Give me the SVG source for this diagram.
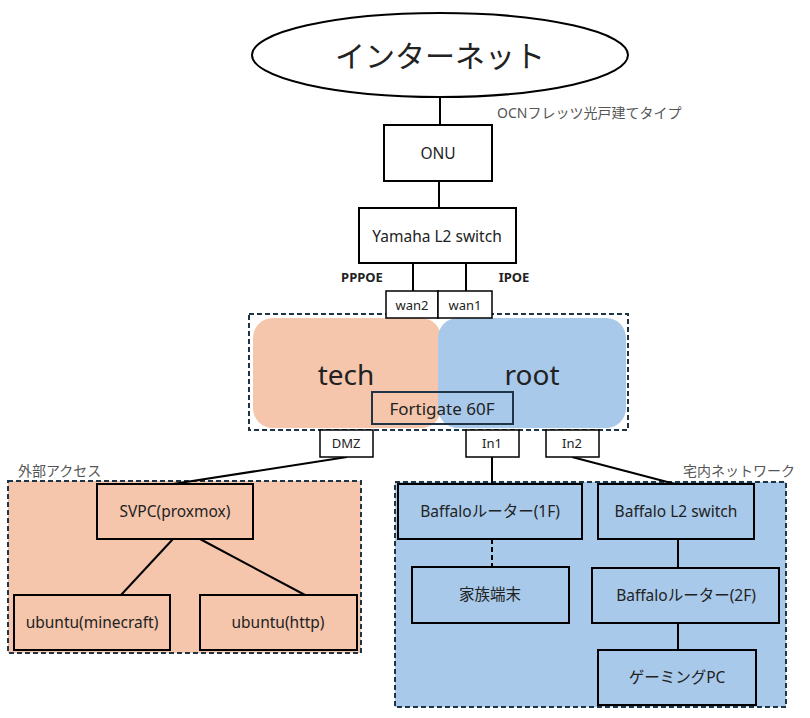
<svg xmlns="http://www.w3.org/2000/svg" width="810" height="718" viewBox="0 0 810 718">
<style>
text{font-family:"Noto Sans","Noto Sans CJK JP",sans-serif;fill:#222;text-anchor:middle;dominant-baseline:central}
.box{fill:#fff;stroke:#000;stroke-width:2}
.sbox{fill:#F5C6AC;stroke:#000;stroke-width:2}
.bbox{fill:#A8C9EA;stroke:#000;stroke-width:2}
.port{fill:#fff;stroke:#000;stroke-width:1.5}
.grp{stroke:#1E3547;stroke-width:2;stroke-dasharray:5 3}
.lbl{font-size:14px;fill:#555;text-anchor:start}
.n{font-size:15.5px}
.b{font-size:13px;font-weight:bold}
.w{font-size:13px}
.c line{stroke:#000;stroke-width:2}
</style>
<rect width="810" height="718" fill="#fff"/>
<g id="fortigate">
<rect x="249" y="314" width="379" height="116" fill="#fff" class="grp"/>
<rect x="253" y="318" width="188" height="110" rx="20" fill="#F5C6AC"/>
<rect x="438" y="318" width="188" height="110" rx="20" fill="#A8C9EA"/>
<text x="346" y="374" font-size="28">tech</text>
<text x="532" y="374" font-size="28">root</text>
<rect x="372" y="392" width="141" height="32" fill="none" stroke="#1E3547" stroke-width="2"/>
<text x="442" y="408" font-size="17">Fortigate 60F</text>
</g>
<g id="external">
<text class="lbl" x="18" y="470">外部アクセス</text>
<rect x="8" y="481" width="353" height="172" fill="#F5C6AC" class="grp"/>
</g>
<g id="home">
<text class="lbl" x="683" y="470">宅内ネットワーク</text>
<rect x="395" y="482" width="391" height="225" fill="#A8C9EA" class="grp"/>
</g>
<g class="c" id="connectors">
<line x1="440" y1="97" x2="440" y2="125"/>
<line x1="439" y1="181" x2="439" y2="208"/>
<line x1="413" y1="263" x2="413" y2="291"/>
<line x1="466" y1="263" x2="466" y2="291"/>
<line x1="347" y1="457" x2="173" y2="484"/>
<line x1="173" y1="539" x2="121" y2="595"/>
<line x1="200" y1="539" x2="305" y2="595"/>
<line x1="492" y1="457" x2="492" y2="484"/>
<line x1="572" y1="457" x2="675" y2="484"/>
<line x1="492" y1="539" x2="492" y2="567" stroke-dasharray="5 3"/>
<line x1="678" y1="539" x2="678" y2="568"/>
<line x1="678" y1="623" x2="678" y2="650"/>
</g>
<g id="internet">
<ellipse cx="440" cy="55" rx="188" ry="42" fill="#fff" stroke="#000" stroke-width="2"/>
<text x="440" y="55" font-size="30">インターネット</text>
</g>
<text class="lbl" x="497" y="112">OCNフレッツ光戸建てタイプ</text>
<g id="onu"><rect class="box" x="384" y="125" width="108" height="56"/><text class="n" x="438" y="153">ONU</text></g>
<g id="yamaha"><rect class="box" x="359" y="208" width="157" height="55"/><text class="n" x="437" y="236">Yamaha L2 switch</text></g>
<text class="b" x="362" y="277">PPPOE</text>
<text class="b" x="514" y="277">IPOE</text>
<g id="wan2"><rect class="port" x="386" y="291" width="52" height="27"/><text class="w" x="412" y="305">wan2</text></g>
<g id="wan1"><rect class="port" x="438" y="291" width="54" height="27"/><text class="w" x="465" y="305">wan1</text></g>
<g id="dmz"><rect class="port" x="320" y="430" width="53" height="27"/><text class="w" x="346" y="443">DMZ</text></g>
<g id="in1"><rect class="port" x="466" y="430" width="53" height="27"/><text class="w" x="492" y="443">In1</text></g>
<g id="in2"><rect class="port" x="546" y="430" width="53" height="27"/><text class="w" x="572" y="443">In2</text></g>
<g id="svpc"><rect class="sbox" x="97" y="484" width="156" height="55"/><text class="n" x="175" y="511">SVPC(proxmox)</text></g>
<g id="minecraft"><rect class="sbox" x="14" y="595" width="156" height="55"/><text class="n" x="92" y="622">ubuntu(minecraft)</text></g>
<g id="http"><rect class="sbox" x="200" y="595" width="157" height="55"/><text class="n" x="278" y="622">ubuntu(http)</text></g>
<g id="router1f"><rect class="bbox" x="398" y="484" width="184" height="55"/><text class="n" x="490" y="511">Baffaloルーター(1F)</text></g>
<g id="l2switch"><rect class="bbox" x="598" y="484" width="156" height="55"/><text class="n" x="676" y="511">Baffalo L2 switch</text></g>
<g id="family"><rect class="bbox" x="412" y="567" width="157" height="56"/><text class="n" x="490" y="594">家族端末</text></g>
<g id="router2f"><rect class="bbox" x="592" y="568" width="187" height="55"/><text class="n" x="686" y="595">Baffaloルーター(2F)</text></g>
<g id="gaming"><rect class="bbox" x="598" y="650" width="158" height="55"/><text class="n" x="677" y="677">ゲーミングPC</text></g>
</svg>
